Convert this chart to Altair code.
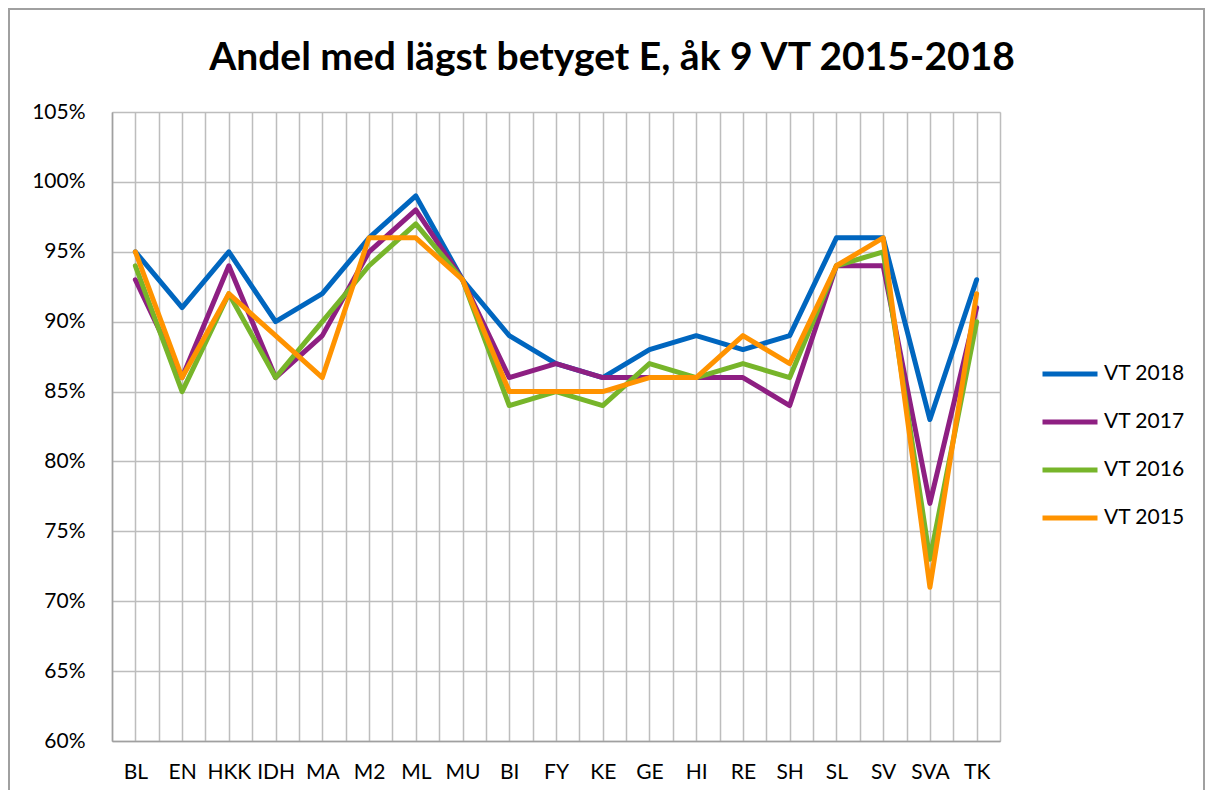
import altair as alt
import pandas as pd

categories = ["BL", "EN", "HKK", "IDH", "MA", "M2", "ML", "MU", "BI", "FY",
              "KE", "GE", "HI", "RE", "SH", "SL", "SV", "SVA", "TK"]
series_names = ["VT 2018", "VT 2017", "VT 2016", "VT 2015"]
vt2018 = [95, 91, 95, 90, 92, 96, 99, 93, 89, 87, 86, 88, 89, 88, 89, 96, 96, 83, 93]
vt2017 = [93, 86, 94, 86, 89, 95, 98, 93, 86, 87, 86, 86, 86, 86, 84, 94, 94, 77, 91]
vt2016 = [94, 85, 92, 86, 90, 94, 97, 93, 84, 85, 84, 87, 86, 87, 86, 94, 95, 73, 90]
vt2015 = [95, 86, 92, 89, 86, 96, 96, 93, 85, 85, 85, 86, 86, 89, 87, 94, 96, 71, 92]
colors = ["#0066BF", "#8E1F82", "#77B52A", "#FF9300"]
y_ticks = [0.60, 0.65, 0.70, 0.75, 0.80, 0.85, 0.90, 0.95, 1.00, 1.05]
title_text = "Andel med lägst betyget E, åk 9 VT 2015-2018"

rows = []
for order, (name, vals) in enumerate(zip(series_names, [vt2018, vt2017, vt2016, vt2015])):
    for i, (c, v) in enumerate(zip(categories, vals)):
        rows.append({"series": name, "order": order, "idx": i, "category": c, "value": v / 100})
df = pd.DataFrame(rows)

FONT = "Lato"
W, H = 888, 629

x_values = [i * 0.5 - 0.5 for i in range(2 * len(categories) + 1)]
cat_js = "[" + ",".join("'" + c + "'" for c in categories) + "]"
label_expr = "(datum.value - floor(datum.value)) == 0 ? " + cat_js + "[datum.value] : ''"

one = pd.DataFrame({"t": [title_text]})

border = alt.Chart(one).mark_rect(
    fill=None, stroke="#A0A0A0", strokeWidth=2
).encode(
    x=alt.value(-103), x2=alt.value(1092), y=alt.value(-103), y2=alt.value(720)
)

title = alt.Chart(one).mark_text(
    font=FONT, fontSize=39, fontWeight="bold", color="#000000",
    align="center", baseline="alphabetic"
).encode(text="t:N", x=alt.value(500), y=alt.value(-42))

lines = alt.Chart(df).mark_line(strokeWidth=5, strokeJoin="round", strokeCap="round").encode(
    x=alt.X("idx:Q",
            scale=alt.Scale(domain=[-0.5, len(categories) - 0.5], nice=False, zero=False),
            axis=alt.Axis(values=x_values, labelExpr=label_expr, title=None,
                          ticks=False, labelOverlap=False, labelPadding=20,
                          labelFontSize=21, labelFont=FONT, labelColor="#000000",
                          grid=True, gridColor="#BDBDBD", gridWidth=1.5,
                          domainColor="#A0A0A0", domainWidth=1.5)),
    y=alt.Y("value:Q",
            scale=alt.Scale(domain=[0.60, 1.05], nice=False, zero=False),
            axis=alt.Axis(values=y_ticks, format=".0%", title=None, ticks=False,
                          labelPadding=27, labelFontSize=21, labelFont=FONT,
                          labelColor="#000000", grid=True, gridColor="#BDBDBD",
                          gridWidth=1.5, domainColor="#A0A0A0", domainWidth=1.5)),
    color=alt.Color("series:N",
                    scale=alt.Scale(domain=series_names, range=colors),
                    sort=series_names,
                    legend=alt.Legend(title=None, orient="none", legendX=928, legendY=232,
                                      symbolType="stroke", symbolSize=3025,
                                      symbolStrokeWidth=5, labelFontSize=21,
                                      labelFont=FONT, labelColor="#000000",
                                      labelOffset=4, rowPadding=8, padding=0)),
    order=alt.Order("order:Q"),
    detail="series:N",
)

chart = alt.layer(border, title, lines).properties(
    width=W, height=H,
    autosize=alt.AutoSizeParams(type="none"),
    padding={"left": 104, "top": 104, "right": 206, "bottom": 49},
).configure_view(stroke=None).configure(background="white")

chart.save("out.html", embed_options={"renderer": "svg", "actions": False})
